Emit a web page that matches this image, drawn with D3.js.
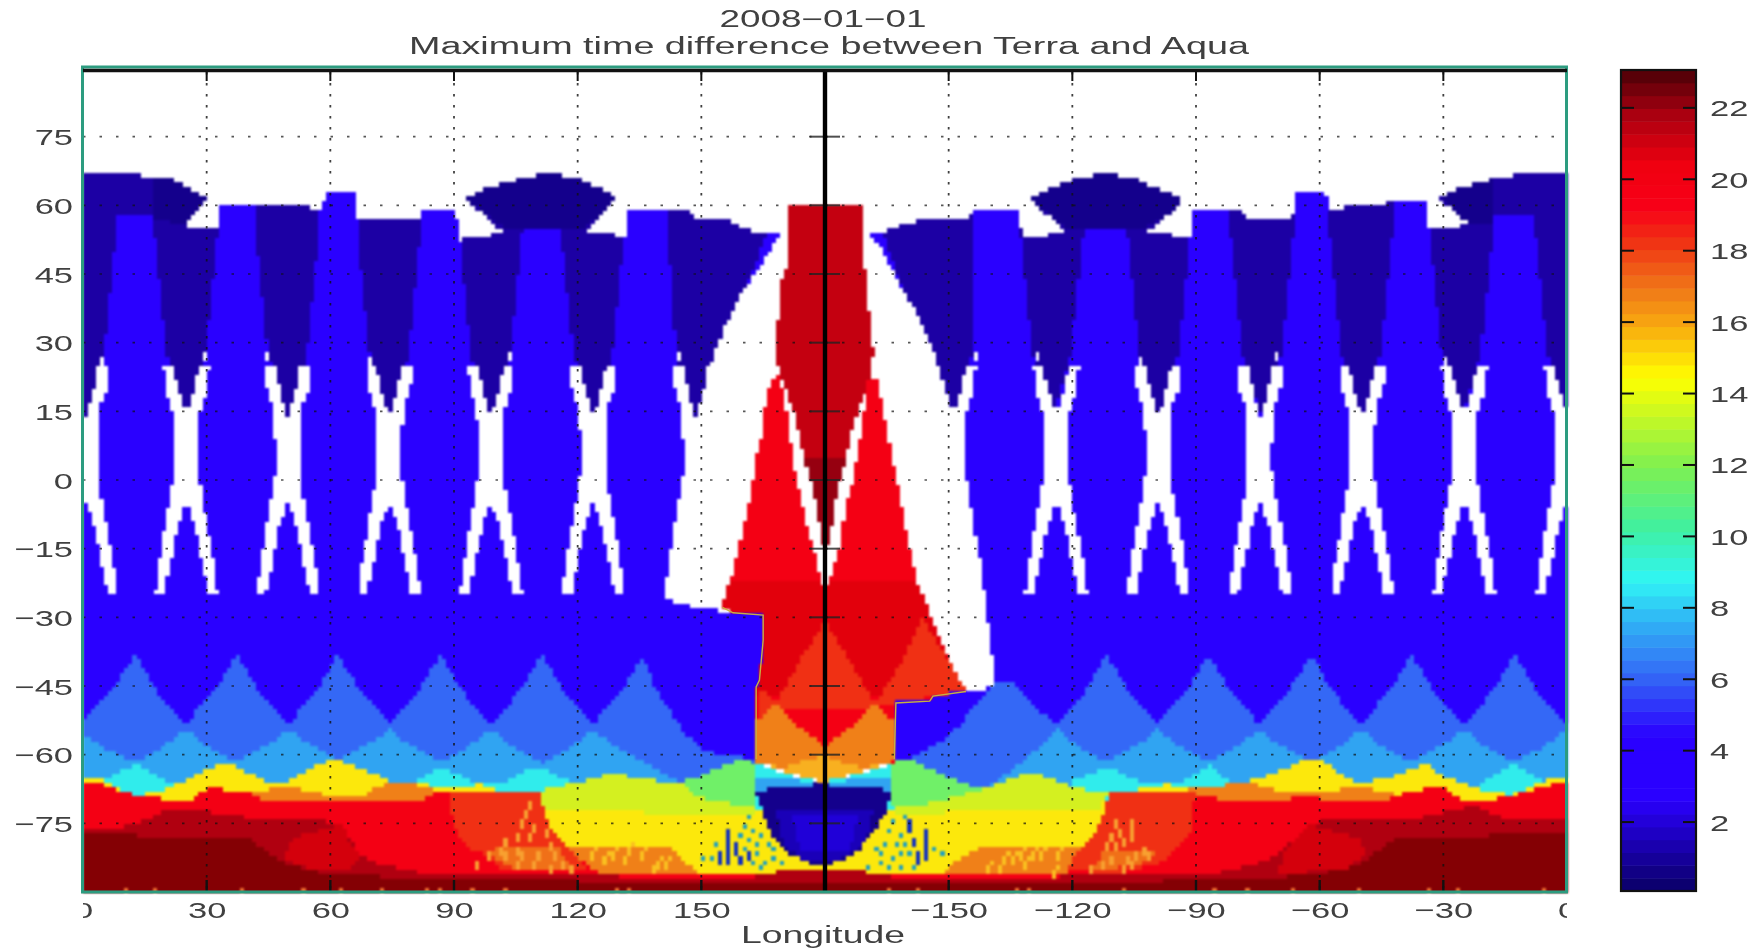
<!DOCTYPE html>
<html><head><meta charset="utf-8">
<style>html,body{margin:0;padding:0;background:#fff;overflow:hidden}svg{display:block}
text{font-family:"Liberation Sans",Arial,sans-serif;fill:#404040}</style>
<script src="https://cdn.jsdelivr.net/npm/d3@7/dist/d3.min.js"></script></head><body>
<svg id="c" width="1758" height="951"></svg>
<script>
const titleLines = ["2008\u221201\u221201","Maximum time difference between Terra and Aqua"];
const xLabel = "Longitude";
const xTickValues = [0,30,60,90,120,150,180,210,240,270,300,330,360];
const xTickLabels = ["0","30","60","90","120","150","","\u2212150","\u2212120","\u221290","\u221260","\u221230","0"];
const yTickValues = [75,60,45,30,15,0,-15,-30,-45,-60,-75];
const yTickLabels = ["75","60","45","30","15","0","\u221215","\u221230","\u221245","\u221260","\u221275"];
const barTicks = [2,4,6,8,10,12,14,16,18,20,22];
const barStops = [[0.07,"#0c0070"],[1.2,"#1a00b0"],[2.5,"#2a00ff"],[4.3,"#2a00ff"],[6,"#3468f6"],[7.5,"#30b0f5"],[8.7,"#30f5f5"],[10.2,"#40f0a0"],[12,"#80f050"],[14.5,"#ffff00"],[16,"#f8a810"],[17,"#f07818"],[18.4,"#f03014"],[19.3,"#f80018"],[20.5,"#f00010"],[22,"#a80010"],[23.06,"#580008"]];

const levelColors = {navy:"#14008c",blue2:"#1c00a4",cup2:"#1a00b8",cup3:"#2000d8",bright:"#2a00ff",mid:"#3468f6",light:"#30a4f2",cyan:"#30ecec",green:"#70f068",ygreen:"#d4f020",yellow:"#fce80c",amber:"#f8b020",orange:"#f08018",spk:"#f07018",redorange:"#f03014",red:"#f40014",red2:"#e2000c",mottle:"#d4000c",column:"#c40010",tip:"#960010",dark:"#b00010",maroon:"#840004",speck:"#f8a030",speckY:"#fac020",dot:"#20a0c0",bar:"#1030c0",white:"#ffffff",spot:"#f07030"};

const outline = [[0,67.3],[11.2,67.3],[11.8,66.7],[16.9,66.3],[18,65.6],[21.4,65.6],[30.5,61.3],[24.8,56.8],[24.8,55.5],[29.1,55.4],[32.9,54.5],[33.3,60.5],[47.2,60.5],[47.9,59.7],[54.7,59.7],[55.4,58.7],[58.1,58.7],[58.8,62.7],[65.9,62.7],[66.3,56.8],[70.3,56.8],[71,57.4],[81.9,57.4],[82.2,58.6],[90.3,58.6],[91.2,51.7],[92.1,52.6],[98.2,52.6],[98.9,53.6],[102.3,53.9],[93.1,61.3],[96.9,63.4],[105,65.6],[111.2,66.7],[114.6,66.7],[120.7,65.6],[129.5,61.9],[121.4,54.3],[122,53.7],[128.2,53.7],[130.2,52.6],[132,53.2],[132.5,58.6],[146.9,58.6],[147.9,57.4],[154.7,57.2],[159.5,55.4],[162.9,54.3],[168.7,53.6],[164.9,48],[159.5,40.8],[155.4,33.5],[152.7,27],[150,17.5],[148.3,13.8],[146,12],[146,0],[143,-16],[141,-26],[145,-27.3],[151,-28],[156.7,-29],[165,-29.2],[165,-90],[197,-90],[197,-48.5],[205.4,-48.1],[206.2,-47],[214.2,-46],[218.3,-46.3],[221,-44.5],[221,-41],[219,-27],[217,-16],[214.2,2],[214,12],[210.8,13.5],[206.8,27.7],[201.3,37.9],[195.9,46.6],[193.2,51],[191.4,53.5],[193.3,53.9],[197.3,55.4],[202.7,56.8],[216.3,57.6],[216.5,58.6],[227.1,58.6],[227.8,52.6],[233.2,52.6],[233.9,53.7],[238,53.7],[238.4,54.3],[230.1,61.3],[233.9,63.4],[240.7,65.6],[246.1,66.7],[250.2,66.7],[255.6,65.6],[267.2,61.2],[258.4,54.6],[258.4,53.7],[263.8,53.7],[264.5,52.6],[268.5,52.6],[269.2,58.6],[281.4,58.6],[282.1,57.4],[289.6,57.4],[289.8,56.8],[293.4,56.8],[293.9,62.7],[301.4,62.7],[301.8,58.7],[305.9,58.7],[306.5,59.7],[315.4,59.7],[316,60.6],[326.2,60.6],[326.5,54.6],[333,54.6],[335.7,56.5],[329.3,61.4],[333,63.4],[341.2,65.6],[346.6,66.4],[352.7,67.3],[360,67.3],[360,-90],[0,-90]];

const wedgeCenters = [0.4,25,49.6,74.2,98.9,123.7,235,261,286,310,334.3,360];
const wedgeShape = [[-7.7,75],[7.7,75],[7.6,54],[4.6,27],[0,13.5],[-4.6,27],[-7.6,54]];
const wedgeLeft = [[141.8,75],[175,75],[148.6,13.5],[144,25.5],[142,54]];
const wedgeRight = [[185,75],[216.5,75],[215.6,27],[211,13.5]];
const xCenters = [0.6,25,49.6,74.2,98.9,123.7,148.6,211,236,260.7,285.5,310.2,335,360];
const xShape = [[-5.6,25.5],[-3.2,25.5],[-2.4,22],[-1.3,18],[0,14],[1.3,18],[2.4,22],[3,25.5],[5.6,25.5],[5.2,20],[3.6,16],[3,8],[3,2],[3.8,-3],[5.6,-12],[7,-20],[7.7,-25],[5.4,-25.5],[4.2,-20],[2,-10],[0,-5],[-2,-10],[-4.2,-20],[-5.4,-25.5],[-7.7,-25],[-7,-20],[-5.6,-12],[-3.8,-3],[-3,2],[-3,8],[-3.6,16],[-5.2,20]];
const whiteDots = [[4.4,25.5],[29.5,26.5],[44.5,26.5],[69.7,25.5],[103.7,26],[144,26],[191.2,25],[216,26.5],[231.2,26.5],[256.3,25.5],[289.8,26],[330.3,25.5]];

const dome1 = [[17,68],[32,62],[25,56],[17,57]];
const dome2 = [[92,62],[105,68],[120,68],[131,62],[122,55.4],[102,55.4]];
const dome3 = [[229,62],[240,68],[256,68],[268,61],[258,55.4],[238,55.4]];
const dome4 = [[329,62],[333,66],[341.8,68],[341.8,56],[335.7,56]];
const capLeft = [[0,70],[17,70],[17,57.6],[0,57.6]];
const capRight = [[341.8,70],[360,70],[360,57.6],[341.8,57.6]];

const midLeft = [[0,-52.4],[12.8,-38],[24.8,-53.3],[37.3,-38],[49.9,-53.3],[61.8,-38],[74.4,-53.3],[86.7,-38],[98.9,-53.3],[111.4,-38],[123.8,-53.3],[135.9,-38],[143,-51],[150,-58.4],[155.4,-60.3],[163,-60.6],[163,-90],[0,-90]];
const midRight = [[197,-61],[201.3,-60.5],[209.5,-56],[216,-49],[221,-44.5],[226,-44],[229,-48],[236.4,-53.3],[248.2,-38],[260.7,-53.3],[273,-38],[285.2,-53.3],[298,-38],[309.9,-53.3],[322.2,-38],[335,-53.3],[347.3,-38],[360,-53.2],[360,-90],[197,-90]];
const lightLeft = [[0,-55.4],[12.8,-61.5],[24.8,-54.3],[37.3,-61.5],[49.9,-54.3],[61.8,-61],[74.4,-54.3],[86.7,-61.5],[98.9,-54.3],[111.4,-61.8],[123.8,-54.3],[135.9,-61.5],[145.5,-66.5],[145.5,-90],[0,-90]];
const lightRight = [[219,-67.4],[236.4,-54.3],[248.2,-61.5],[260.7,-54.3],[273,-61.5],[285.2,-54.3],[298,-61.5],[309.9,-54.3],[322.2,-61.5],[335,-54.3],[347.3,-61.5],[360,-54.3],[360,-90],[219,-90]];
const cyanLeft = [[0,-66],[6,-65],[13,-61.9],[21,-66],[80,-66],[87,-62.5],[95,-66],[102,-66],[110,-62.3],[118.8,-66],[119,-90],[0,-90]];
const cyanRight1 = [[240,-65.5],[248.1,-62.6],[256.2,-65.5],[265.9,-66.3],[273.2,-62.2],[278.8,-66.3],[278.8,-90],[240,-90]];
const cyanRight2 = [[338.6,-66.3],[346.7,-61.9],[354,-65.5],[354,-90],[338.6,-90]];
const cyanCenter = [[163,-62],[170,-64],[179,-66],[189,-64],[197,-62],[197,-90],[163,-90]];
const lightCenter = [[163,-65],[172,-65],[179,-66.5],[188,-65],[197,-65],[197,-69],[163,-69]];
const yellowLeft = [[0,-65.5],[4,-65.2],[8,-67],[13,-68.8],[18.7,-68],[23.5,-66],[31.6,-62.6],[34.4,-61.5],[38,-63],[46.2,-66.3],[51,-65.2],[55.9,-62.6],[61.5,-60.8],[66.4,-62.6],[74.4,-65.5],[82.5,-66.3],[90.6,-67.4],[96.3,-66.3],[100,-67.5],[110,-68.1],[110,-90],[0,-90]];
const yellowRight = [[249,-68],[257.8,-67.4],[262.7,-66.3],[268.3,-67.4],[276.4,-66.6],[283.3,-65.5],[290.1,-63.4],[298.2,-60.4],[300.6,-61.5],[309.9,-66.3],[317.6,-64.5],[325.7,-61.9],[330.5,-64.8],[338.6,-67.4],[346.7,-68.8],[348.3,-68.1],[354.8,-65.5],[360,-64.9],[360,-90],[249,-90]];
const orangeLeft = [[41.3,-68.5],[46.2,-67],[51,-66.6],[55,-68.1],[59.5,-68.8],[68.8,-68.8],[70.4,-67.4],[74.4,-65.9],[82.5,-66.6],[85,-67.6],[87,-68],[83.3,-70],[43.7,-70.5]];
const orangeRight = [[265.9,-67.7],[269,-67.4],[276.4,-66.6],[282.9,-65.9],[287.7,-67.4],[293.4,-68.1],[302.3,-68.1],[308.7,-66.6],[314.4,-67.7],[317.6,-68.5],[317,-70.5],[269,-70],[265.9,-68.5]];
const yellowCenter = [[110.5,-70],[163,-72],[197,-72],[249,-70],[244,-80],[239,-86],[120,-86],[114,-79]];
const ygreenLeft = [[110,-68],[120.4,-65.9],[128.5,-63.7],[135,-65.2],[144.7,-65.9],[150,-68],[163.3,-69],[163.3,-73],[149.5,-72.8],[113,-72],[111,-71]];
const ygreenRight = [[197,-70],[211,-69.2],[218.6,-67.4],[225.5,-64.8],[230.4,-63.7],[236,-65.5],[241.7,-67.4],[249,-68.1],[246.5,-72.1],[209.4,-72.5],[197,-73]];
const greenLeft = [[144.7,-65.9],[149.5,-64.8],[155.2,-62.3],[160,-60.8],[163.3,-61.9],[163.3,-70.7],[157.6,-70.7],[149.5,-69.2]];
const greenRight = [[196.4,-61],[198.9,-60.8],[201.3,-61.2],[207.7,-64],[212.6,-65.9],[218.6,-67.4],[211,-69.2],[203.7,-70.7],[196.4,-70.7]];
const bandLeft = [[118,-79.8],[142.3,-79.8],[148,-84.9],[150,-86],[125,-86],[119.6,-82.3]];
const bandRight = [[218.2,-79.8],[241.7,-80.1],[239,-86],[209,-86],[209.8,-83.8],[214,-82.3]];
const redLeft = [[0,-65.9],[4,-65.9],[7.4,-67.4],[13,-68.8],[19,-69.2],[20.3,-70.3],[26,-70.3],[27.2,-68.8],[31.6,-67],[37.3,-68.1],[41.3,-68.5],[42.1,-68.8],[43.7,-70],[59.9,-70.3],[67,-69.9],[69.6,-69.6],[83.3,-69.6],[86.6,-67.7],[111,-67.9],[111.5,-71.4],[113,-75.8],[117.2,-80.1],[119.6,-82.3],[125,-85.6],[125,-90],[0,-90]];
const redRight = [[249,-67.9],[265.9,-68.4],[269.1,-69.2],[276.4,-69.6],[290.1,-70.3],[294.2,-69.2],[299.8,-69.2],[302.3,-70.3],[316,-69.9],[317.6,-68.8],[322.5,-68.1],[328.9,-66.6],[330.5,-67.4],[334.6,-69.9],[339.4,-70.3],[346.7,-68.8],[349.1,-68.1],[358.8,-65.9],[360,-65.7],[360,-90],[236,-90],[239,-85.6],[240.9,-81.6],[244.9,-77.9],[247.3,-73.6]];
const redOrangeLeft = [[89,-68],[111,-68],[111.5,-71.4],[113,-75.8],[117.2,-80.1],[119.6,-82.3],[122,-85],[101,-85],[98.6,-82],[94.6,-80.9],[91.3,-78],[89,-72]];
const redOrangeRight = [[249,-68.1],[269.6,-68.5],[269.1,-75.8],[265.9,-80.1],[261,-83.8],[249.8,-86],[239,-85],[240.9,-81.6],[244.9,-77.9],[247.3,-73.6]];
const speckleLeft = [[98.6,-81.6],[102,-79.5],[115,-79.5],[118.8,-84.9],[104.3,-84.9]];
const speckleRight = [[244.9,-84.9],[248,-80.5],[258,-80.5],[260.3,-82],[256.2,-84.1]];
const redBand = [[119,-86],[250,-86],[250,-90],[119,-90]];
const darkFloor = [[0,-76],[8.2,-75.8],[13,-74.7],[19.5,-72.5],[27.6,-72.1],[39.7,-73.6],[55.9,-74.3],[63,-74.7],[64,-77.2],[67.2,-81.6],[72,-83.8],[84,-86],[101,-86],[160,-87],[166,-86],[170,-85],[188,-85],[193,-86],[200,-87],[274,-86],[284.5,-83.8],[290.1,-81.6],[294.2,-78],[298.2,-74.7],[302.3,-74.3],[322.5,-74],[330.5,-72.5],[337.8,-71],[345,-74],[360,-74.3],[360,-90],[0,-90]];
const mottleLeft = [[51,-78],[63.1,-75],[64,-78],[67.2,-82.3],[64,-85.2],[55.9,-84.9],[48.6,-83]];
const mottleRight = [[297.4,-75],[309.5,-78],[311.1,-81.6],[306.3,-84.9],[290.1,-86],[291,-81.6]];
const maroonFloor = [[0,-76.5],[20,-78],[40,-78],[44.5,-81],[49.4,-83.8],[57.5,-85.6],[80,-87],[160,-88],[200,-88],[274,-87.4],[290.1,-86.7],[304.7,-85.2],[309.5,-83.8],[314.4,-80.9],[318.4,-78],[338.6,-77.6],[360,-76.5],[360,-90],[0,-90]];

const redBlock = [[167.8,23],[166.6,20.4],[165.4,16],[164.5,9.4],[163.3,5],[162.5,0],[160.1,-11],[158.1,-19],[156,-24.8],[155.1,-27.6],[157.7,-28.8],[165,-29.3],[165,-35],[164.1,-43.7],[163.3,-45.2],[163.5,-61.5],[197,-61.5],[196.6,-48.5],[197.3,-48.5],[205.4,-48.1],[206.2,-47],[214.2,-46],[211.8,-43],[206.2,-31.3],[202.1,-21.9],[198.9,-8],[197.3,0],[196,5],[194,16],[192.8,21.8],[190.4,22.6],[189.2,12.4],[188,6.5],[186.8,0],[185.2,-4.4],[183.5,-14.6],[181.5,-21],[180.1,-24],[179.1,-21.9],[177.5,-16],[175.5,-9.5],[173,0],[171.8,5.1],[171,12.4],[169.4,21],[169,23]];
const blockShade = [[150,-22],[220,-22],[220,-47],[150,-47]];
const blockLower = [[150,-50],[220,-50],[220,-60],[150,-60]];
const fanCenter = [[179.9,-30.6],[186,-39.4],[192,-48.5],[190,-50],[170,-50],[168.2,-48.5],[173.8,-39.4]];
const fanRight = [[203.5,-30],[214.2,-46],[197.3,-48.5],[192,-48.5],[195.7,-43.7],[199.7,-37.9]];
const fanLeft = [[163.5,-45.5],[167,-47.2],[168.2,-48.2],[164,-52]];
const orangeScallop = [[168.2,-48.5],[173.8,-54],[179.5,-57.6],[180.5,-57.6],[186,-54],[192,-48.5],[196.6,-52.5],[196.6,-61.3],[189.1,-63],[179.4,-60.1],[169.7,-63],[163.5,-61.5],[163.5,-52.5]];
const amberTri = [[165,-62],[169.7,-62.8],[179.4,-60.1],[189.1,-62.8],[195,-62],[179.4,-66]];
const darkColumn = [[170.8,59.8],[189.2,59.8],[189.2,46],[190,46],[190,37],[191.2,36.4],[191.2,29],[192,28],[192,27],[190,20.4],[187.6,14.6],[184.4,3.6],[183.1,-2.2],[182.6,-3.6],[181.5,-9.5],[180.7,-13.9],[179.3,-13.9],[178.3,-7.3],[177.5,-3.6],[176.7,0],[175.5,3.6],[172.6,14.6],[169.4,22.6],[167.8,27.7],[167.8,29],[168.6,36.4],[169.8,45.9],[170.8,45.9]];
const columnTip = [[175,5],[185,5],[182.6,-3.6],[180.7,-14],[179.3,-14],[177.5,-3.6]];
const cup = [[163.3,-68.2],[167.3,-67],[179.4,-66.4],[191.6,-67],[196.4,-68.2],[194.8,-72.2],[192.4,-75.8],[188.3,-80.9],[183.5,-83.1],[179.4,-84.2],[176.2,-83.5],[171.4,-81.7],[167.3,-78],[165.3,-73.6]];
const cupInner = [[168,-71.5],[192,-71.5],[190,-79],[183.5,-83],[176,-83.5],[170,-80]];
const cupCore = [[172,-73],[188,-73],[186,-81],[174,-81]];
const edgeTraces = [[[155.1,-27.8],[157.7,-29],[165,-29.5],[165,-35],[164.1,-43.7],[163.3,-45.2],[163.3,-61]],[[214.2,-46.2],[206.2,-47.2],[205.4,-48.3],[197.2,-48.7],[196.8,-61]]];

const tealDots = [[161.7,-73.3],[160.9,-75.5],[162.9,-76.6],[159.6,-77.3],[164.9,-77.6],[161.7,-78.4],[166.9,-79.1],[167.7,-80.6],[163.3,-79.8],[160.9,-80.2],[153.6,-79.3],[150.4,-82.4],[152.4,-83],[163.7,-82],[165.5,-83.1],[169.7,-83.5],[167.7,-82.4],[162.9,-83.5],[164.5,-84.7],[199,-73.3],[196,-74.4],[195.2,-76.4],[198,-77.3],[197.2,-79.3],[194.8,-79.3],[192.4,-80.2],[199.2,-79.3],[206.1,-80.9],[208.1,-81.5],[200,-82],[198,-82],[196.4,-82.8],[193.2,-81.3],[193.2,-83.5],[195.2,-84.2],[198,-84.4],[201.3,-84.2],[190.8,-84.4]];
const blueBars = [[156.7,-76.6,-83.8],[154.8,-81.3,-83.8],[158.6,-79.1,-81.3],[159.6,-82.4,-83.8],[161.7,-81.3,-82.8],[200,-75,-77],[201.3,-78.2,-79.8],[204.1,-77,-83.8],[202.1,-81.3,-83.8]];
const orangeDots = [[108.7,-70.3],[107.5,-72.5],[106.3,-75],[109.9,-75.4],[112,-76.3],[105.5,-78],[108.7,-77.6],[102.7,-78.7],[113.6,-79.4],[101,-80.9],[105.5,-80.1],[98.6,-81.6],[102.7,-82],[106.7,-81.6],[110.7,-81.6],[114.8,-82],[105.1,-83.8],[109.1,-83.8],[113.2,-84.1],[116.4,-83.8],[95.8,-83.4],[118.8,-84.9],[250.2,-74.3],[254.2,-74.3],[254.2,-75.5],[254.2,-76.7],[254.2,-78],[251,-76.5],[249,-77.6],[252.2,-78.7],[248.1,-79.4],[250.6,-79.4],[257,-80.1],[258.6,-82],[255.4,-81.6],[253,-82.3],[249.8,-82.7],[247.3,-83.8],[254.6,-83.4],[244.9,-84.9],[252.2,-84.1]];
const amberDots = [[126.1,-82.7],[128.5,-81.6],[131.7,-83],[135.8,-82],[139,-83.8],[141.4,-83.4],[132.6,-80.9],[123.7,-82],[138.2,-84.9],[225.5,-83],[227.9,-81.6],[230.4,-82],[232.8,-81.6],[236,-81.2],[222.3,-84.1],[228.8,-83.4],[223.5,-82.3],[235.2,-85.2],[219.9,-84.5]];
const floorSpots = [10.2,17.5,38,53.4,62.3,72.4,83.3,86.6,94.6,102.7,129.3,132.6,195,202.9,226.3,229.6,252.2,274.4,282.5,293.4,309.1,326.1,333,354.8];

const W=1758,H=951;
const plot={l:83,r:1567,t:68,b:892};
const bar={l:1621,r:1696,t:70,b:891};
const x=d3.scaleLinear().domain([0,360]).range([plot.l,plot.r]);
const y=d3.scaleLinear().domain([-90,90]).range([plot.b,plot.t]);
const yb=d3.scaleLinear().domain([0.07,23.06]).range([bar.b,bar.t]);
const barColor=d3.scaleLinear().domain(barStops.map(s=>s[0])).range(barStops.map(s=>s[1]));
const shift=(shape,c)=>shape.map(p=>[p[0]+c,p[1]]);
// flare the sides of the scallops: extra vertex pulled toward the higher end
const spire=poly=>{const out=[];poly.forEach((p,i)=>{out.push(p);const q=poly[(i+1)%poly.length];
  if(Math.abs(q[1]-p[1])>6&&Math.abs(q[0]-p[0])>3&&p[1]>-70&&q[1]>-70){const hi=p[1]>q[1]?p:q;const lo=p[1]>q[1]?q:p;
    out.push([(p[0]+q[0])/2+(hi[0]-lo[0])/Math.abs(hi[0]-lo[0])*1.1,(p[1]+q[1])/2]);}});return out;};

const layers=[
 ["bright",outline,null],
 ...wedgeCenters.map(c=>["blue2",shift(wedgeShape,c),outline]),
 ["blue2",wedgeLeft,outline],["blue2",wedgeRight,outline],
 ["blue2",capLeft,outline],["blue2",capRight,outline],
 ["navy",dome1,outline],["navy",dome2,outline],["navy",dome3,outline],["navy",dome4,outline],
 ...xCenters.map(c=>["white",shift(xShape,c),null]),
 ["mid",spire(midLeft),null],["mid",spire(midRight),null],["light",spire(lightLeft),null],["light",spire(lightRight),null],
 ["cyan",cyanLeft,null],["cyan",cyanRight1,null],["cyan",cyanRight2,null],["cyan",cyanCenter,null],["light",lightCenter,null],
 ["yellow",yellowLeft,null],["yellow",yellowRight,null],["orange",orangeLeft,null],["orange",orangeRight,null],
 ["yellow",yellowCenter,null],["ygreen",ygreenLeft,null],["ygreen",ygreenRight,null],["green",greenLeft,null],["green",greenRight,null],
 ["orange",bandLeft,null],["orange",bandRight,null],
 ["red",redLeft,null],["red",redRight,null],["redorange",redOrangeLeft,null],["redorange",redOrangeRight,null],
 ["spk",speckleLeft,null],["spk",speckleRight,null],["red",redBand,null],
 ["dark",darkFloor,null],["mottle",mottleLeft,null],["mottle",mottleRight,null],["maroon",maroonFloor,null],
 ["red",redBlock,null],["red2",blockShade,redBlock],["red",blockLower,redBlock],
 ["redorange",fanCenter,redBlock],["redorange",fanRight,redBlock],["redorange",fanLeft,redBlock],
 ["orange",orangeScallop,null],["amber",amberTri,null],
 ["column",darkColumn,null],["tip",columnTip,null],
 ["navy",cup,null],["cup2",cupInner,null],["cup3",cupCore,null]
].map(l=>({key:l[0],poly:l[1],clip:l[2]})).reverse();

const nx=360,ny=180;
const grid=d3.range(ny).map(j=>d3.range(nx).map(i=>{
  const p=[i+.5,j-90+.5];
  const hit=layers.find(l=>d3.polygonContains(l.poly,p)&&(!l.clip||d3.polygonContains(l.clip,p)));
  return hit?hit.key:"white";
}));
const put=(lon,lat,k)=>{const i=Math.floor(lon),j=Math.floor(lat+90);if(i>=0&&i<nx&&j>=0&&j<ny)grid[j][i]=k;};
whiteDots.forEach(d=>{put(d[0],d[1],"white");put(d[0],d[1]+1,"white");});
orangeDots.forEach(d=>{put(d[0],d[1],"speck");put(d[0],d[1]-1,"speck");});
amberDots.forEach(d=>{put(d[0],d[1],"speckY");put(d[0]+1,d[1]+1,"speckY");put(d[0],d[1]-1,"speckY");});
tealDots.forEach(d=>put(d[0],d[1],"dot"));
blueBars.forEach(b=>{for(let la=b[1];la>=b[2];la-=1)put(b[0],la,"bar");});
floorSpots.forEach(l=>put(l,-89.2,"spot"));

const runs=[];
grid.forEach((row,j)=>{let s=0;for(let i=1;i<=nx;i++){if(i===nx||row[i]!==row[s]){if(row[s]!=="white")runs.push({lat:j-90,i0:s,i1:i,k:row[s]});s=i;}}});

const svg=d3.select("#c");
const defs=svg.append("defs");
const blur=(id,s)=>defs.append("filter").attr("id",id).attr("x","-2%").attr("y","-2%").attr("width","104%").attr("height","104%").attr("color-interpolation-filters","sRGB").append("feGaussianBlur").attr("stdDeviation",s);
blur("bh",0.9);blur("bt",0.45);
defs.append("clipPath").attr("id","xclip").append("rect").attr("x",plot.l).attr("y",880).attr("width",plot.r-plot.l).attr("height",60);

const heat=svg.append("g").attr("filter","url(#bh)").attr("shape-rendering","crispEdges");
heat.selectAll("rect").data(runs).join("rect")
 .attr("x",d=>x(d.i0)).attr("width",d=>x(d.i1)-x(d.i0)+.6)
 .attr("y",d=>y(d.lat+1)).attr("height",d=>y(d.lat)-y(d.lat+1)+.6)
 .attr("fill",d=>levelColors[d.k]);

const over=svg.append("g").attr("filter","url(#bt)");
over.append("g").attr("fill","none").selectAll("path").data(edgeTraces).join("path")
 .attr("d",d3.line().x(d=>x(d[0])).y(d=>y(d[1]))).attr("stroke","#c8b040").attr("stroke-width",1.4);
over.append("g").selectAll("line").data(xTickValues.filter(v=>v>0&&v<360&&v!==180)).join("line").attr("class","gx")
 .attr("x1",d=>x(d)).attr("x2",d=>x(d)).attr("y1",plot.t+4).attr("y2",plot.b)
 .attr("stroke","#111").attr("stroke-width",1.8).attr("stroke-dasharray","2.5 8.5").attr("opacity",.8);
over.append("g").selectAll("line").data(yTickValues).join("line").attr("class","gy")
 .attr("x1",plot.l).attr("x2",plot.r).attr("y1",d=>y(d)).attr("y2",d=>y(d))
 .attr("stroke","#111").attr("stroke-width",1.6).attr("stroke-dasharray","2.5 14").attr("opacity",.7);
const xWrap=svg.append("g").attr("clip-path","url(#xclip)");
const xAxis=xWrap.append("g").attr("transform",`translate(0,${plot.b})`)
 .call(d3.axisBottom(x).tickValues(xTickValues).tickFormat((d,i)=>xTickLabels[i]).tickSize(0));
const yAxis=svg.append("g").attr("transform",`translate(${plot.l},0)`)
 .call(d3.axisLeft(y).tickValues(yTickValues).tickFormat((d,i)=>yTickLabels[i]).tickSize(0));
[xAxis,yAxis].forEach(a=>a.select(".domain").remove());
xAxis.attr("font-size",null).attr("font-family",null).selectAll("text").attr("font-size",23).attr("y",0).attr("dy",26).attr("transform","scale(1.5,1)").attr("filter","url(#bt)");
yAxis.attr("font-size",null).attr("font-family",null).selectAll("text").attr("font-size",23).attr("x",-10/1.5).attr("dy",8).attr("text-anchor","end").attr("transform","scale(1.5,1)").attr("filter","url(#bt)");
const tk=over.append("g");
tk.selectAll(".t").data(xTickValues.filter(v=>v>0&&v<360&&v!==180)).join("line").attr("class","t")
 .attr("x1",d=>x(d)).attr("x2",d=>x(d)).attr("y1",plot.t+2).attr("y2",plot.t+13).attr("stroke","#111").attr("stroke-width",2);
tk.selectAll(".b").data(xTickValues.filter(v=>v>0&&v<360&&v!==180)).join("line").attr("class","b")
 .attr("x1",d=>x(d)).attr("x2",d=>x(d)).attr("y1",plot.b-12).attr("y2",plot.b).attr("stroke","#111").attr("stroke-width",2.4);
tk.selectAll(".c").data(yTickValues).join("line").attr("class","c")
 .attr("x1",x(180)-15).attr("x2",x(180)+15).attr("y1",d=>y(d)).attr("y2",d=>y(d)).attr("stroke","#222").attr("stroke-width",2).attr("opacity",.8);
over.append("line").attr("x1",x(180)).attr("x2",x(180)).attr("y1",plot.t+2).attr("y2",plot.b).attr("stroke","#000").attr("stroke-width",4.4);
const fr=over.append("g").attr("fill","none");
fr.append("rect").attr("x",plot.l-.5).attr("y",plot.t-1).attr("width",plot.r-plot.l).attr("height",plot.b-plot.t+1).attr("stroke","#2c9c80").attr("stroke-width",3);
fr.append("line").attr("x1",plot.l).attr("x2",plot.r).attr("y1",plot.t+2.5).attr("y2",plot.t+2.5).attr("stroke","#111").attr("stroke-width",3.6);
const bands=d3.range(64);
const bandY=d3.scaleBand().domain(bands).range([bar.b,bar.t]);
const bv=d3.scaleLinear().domain([0,63]).range(yb.domain());
const cb=svg.append("g").attr("filter","url(#bt)");
cb.selectAll(".band").data(bands).join("rect").attr("class","band").attr("x",bar.l).attr("width",bar.r-bar.l)
 .attr("y",d=>bandY(d)).attr("height",bandY.bandwidth()+.5).attr("fill",d=>barColor(bv(d)));
cb.append("rect").attr("x",bar.l).attr("y",bar.t).attr("width",bar.r-bar.l).attr("height",bar.b-bar.t).attr("fill","none").attr("stroke","#111").attr("stroke-width",2.2);
cb.selectAll(".l").data(barTicks).join("line").attr("class","l").attr("x1",bar.l).attr("x2",bar.l+13).attr("y1",d=>yb(d)).attr("y2",d=>yb(d)).attr("stroke","#111").attr("stroke-width",2);
cb.selectAll(".r").data(barTicks).join("line").attr("class","r").attr("x1",bar.r-13).attr("x2",bar.r).attr("y1",d=>yb(d)).attr("y2",d=>yb(d)).attr("stroke","#111").attr("stroke-width",2);
const barAxis=svg.append("g").attr("transform",`translate(${bar.r},0)`).call(d3.axisRight(yb).tickValues(barTicks).tickFormat(d3.format("d")).tickSize(0));
barAxis.select(".domain").remove();
barAxis.attr("font-size",null).attr("font-family",null).selectAll("text").attr("font-size",23).attr("x",14/1.5).attr("dy",8).attr("text-anchor","start").attr("transform","scale(1.5,1)").attr("filter","url(#bt)");
const T=svg.append("g").attr("filter","url(#bt)");
const tt=(s,cx,by,w)=>T.append("text").attr("x",cx).attr("y",by).attr("text-anchor","middle").attr("font-size",23).attr("textLength",w).attr("lengthAdjust","spacingAndGlyphs").text(s);
tt(titleLines[0],823,27,207);
tt(titleLines[1],829,54,840);
tt(xLabel,823,943,164);
</script></body></html>
